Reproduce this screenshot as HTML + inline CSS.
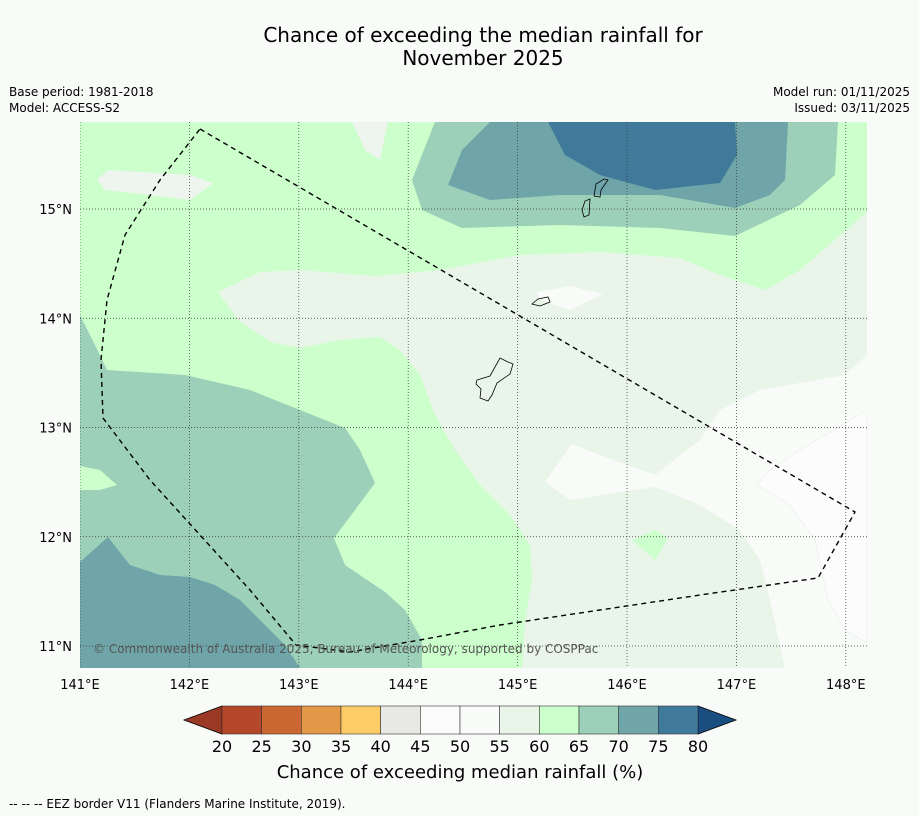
<!DOCTYPE html>
<html><head><meta charset="utf-8">
<style>
body{margin:0;background:#f9fbf9;}
svg{display:block;font-family:"DejaVu Sans","Liberation Sans",sans-serif;}
</style></head>
<body>
<svg id="chart" width="919" height="816" viewBox="0 0 919 816" xmlns="http://www.w3.org/2000/svg">
<rect width="919" height="816" fill="#f9fbf9"/>
<text x="483" y="42" font-size="20" text-anchor="middle">Chance of exceeding the median rainfall for</text>
<text x="483" y="65" font-size="20" text-anchor="middle">November 2025</text>
<text x="9" y="96" font-size="12">Base period: 1981-2018</text>
<text x="9" y="112" font-size="12">Model: ACCESS-S2</text>
<text x="910" y="96" font-size="12" text-anchor="end">Model run: 01/11/2025</text>
<text x="910" y="112" font-size="12" text-anchor="end">Issued: 03/11/2025</text>
<defs><clipPath id="mc"><rect x="80" y="122" width="787" height="546"/></clipPath></defs>
<g clip-path="url(#mc)">
<rect x="80" y="122" width="787" height="546" fill="#ccffcc"/>
<path fill="#9cd0b8" d="M435,122 L412,180 L422,210 L462,228 L560,225 L660,228 L735,236 L800,205 L835,175 L838,122Z"/>
<path fill="#6fa5a8" d="M490,122 L462,150 L448,185 L490,200 L560,195 L660,195 L735,208 L770,195 L785,180 L788,122Z"/>
<path fill="#3f7a9a" d="M548,122 L565,155 L600,175 L655,190 L720,183 L737,155 L735,122Z"/>
<path fill="#e9f5e9" d="M218,292 L260,272 L300,270 L375,276 L440,270 L520,255 L600,252 L680,258 L720,275 L765,290 L800,270 L867,212 L867,668 L522,668 L525,620 L532,580 L530,545 L510,515 L480,485 L455,450 L435,415 L420,375 L400,350 L380,337 L340,340 L300,348 L270,342 L238,320Z"/>
<path fill="#f9fbf9" d="M572,444 L545,482 L570,500 L655,487 L700,505 L740,530 L760,560 L770,600 L785,668 L867,668 L867,355 L845,375 L760,390 L720,410 L700,440 L655,475 L600,455Z"/>
<path fill="#fbfcfb" stroke="#eef2ee" stroke-width="1" d="M867,410 L800,450 L770,470 L757,485 L790,505 L815,540 L828,600 L845,630 L867,643Z"/>
<path fill="#f9fbf9" d="M537,292 L570,286 L603,294 L570,310 L540,300Z"/>
<path fill="#eef5ee" d="M97,180 L108,170 L190,175 L213,183 L190,200 L150,195 L105,190Z"/>
<path fill="#eef5ee" d="M352,122 L388,122 L380,160 L365,150Z"/>
<path fill="#ccffcc" d="M632,540 L655,530 L668,538 L655,560Z"/>
<path fill="#9cd0b8" d="M80,315 L95,345 L107,370 L185,375 L250,390 L300,410 L345,428 L360,450 L375,483 L355,510 L334,538 L345,565 L385,592 L405,610 L422,640 L422,668 L80,668Z"/>
<path fill="#ccffcc" d="M80,466 L100,470 L117,485 L100,490 L80,490Z"/>
<path fill="#6fa5a8" d="M80,562 L108,537 L130,565 L160,575 L190,577 L215,585 L240,600 L265,625 L285,645 L300,668 L80,668Z"/>
<g id="grid" stroke="#333" stroke-width="0.7" stroke-dasharray="1,2"></g>
<path fill="none" stroke="#000" stroke-width="0.8" d="M477,380 L490,376 L500,358 L508,362 L513,364 L510,374 L497,383 L492,395 L488,401 L480,398 L481,389 L476,384Z"/>
<path fill="none" stroke="#000" stroke-width="0.8" d="M532,304 L538,299 L548,297 L550,302 L540,306Z"/>
<path fill="none" stroke="#000" stroke-width="0.8" d="M582,210 L585,201 L590,199 L589,215 L584,217Z"/>
<path fill="none" stroke="#000" stroke-width="0.8" d="M594,196 L596,184 L604,179 L608,180 L601,190 L600,197Z"/>
<path fill="none" stroke="#000" stroke-width="1.4" stroke-dasharray="5,4" d="M200,129 L855,512 L818,578 L700,595 L600,610 L500,625 L420,640 L350,652 L296,645 L250,590 L200,535 L150,480 L103,418 L101,360 L107,300 L125,235 L160,180 Z"/>
<text x="93" y="653" font-size="12" fill="#555">© Commonwealth of Australia 2025, Bureau of Meteorology, supported by COSPPac</text>
</g>
<g id="axes"></g>
<g id="cbar"></g>
<text x="460" y="778" font-size="18" text-anchor="middle">Chance of exceeding median rainfall (%)</text>
<text x="9" y="808" font-size="12">--  --  -- EEZ border V11 (Flanders Marine Institute, 2019).</text>
</svg>
<script>
const lonTicks=[141,142,143,144,145,146,147,148];
const latTicks=[11,12,13,14,15];
const binEdges=[20,25,30,35,40,45,50,55,60,65,70,75,80];
const binColors=["#b5472a","#cc6633","#e39847","#fdcc66","#e8e8e4","#fbfbfb","#f9fbf9","#e9f5e9","#ccffcc","#9cd0b8","#6fa5a8","#3f7a9a"];
const lowColor="#9a3a25", highColor="#1a4d80";
const NS="http://www.w3.org/2000/svg";
const xLon=l=>80+(l-141)*109.4;
const yLat=l=>209+(15-l)*109.25;
const xC=v=>222+(v-20)*(476/60);
function mk(t,a,p){const e=document.createElementNS(NS,t);for(const k in a)e.setAttribute(k,a[k]);p.appendChild(e);return e;}
const grid=document.getElementById('grid'),axes=document.getElementById('axes'),cb=document.getElementById('cbar');
lonTicks.forEach(l=>{
 const x=xLon(l);
 const g=mk('line',{x1:x,x2:x,y1:122,y2:668},grid);
 
 
 const t=mk('text',{x:x,y:689,'font-size':13,'text-anchor':'middle'},axes);
 t.textContent=l+'°E';
 
 
});
latTicks.forEach(l=>{
 const y=yLat(l);
 const g=mk('line',{x1:80,x2:867,y1:y,y2:y},grid);
 
 
 const t=mk('text',{x:72,y:y+5,'font-size':13,'text-anchor':'end'},axes);
 t.textContent=l+'°N';
 
 
});
const y0=706,y1=734;
const lt=mk('path',{d:`M${xC(20)},${y0} L184,${(y0+y1)/2} L${xC(20)},${y1}Z`,fill:lowColor,stroke:'#000','stroke-width':0.8},cb);


const rt=mk('path',{d:`M${xC(80)},${y0} L736,${(y0+y1)/2} L${xC(80)},${y1}Z`,fill:highColor,stroke:'#000','stroke-width':0.8},cb);


binColors.forEach((c,i)=>{
 const r=mk('rect',{x:xC(binEdges[i]),y:y0,width:xC(binEdges[i+1])-xC(binEdges[i]),height:y1-y0,fill:c,stroke:'#333','stroke-width':0.6},cb);
 
 
});
binEdges.forEach(v=>{
 const t=mk('text',{x:xC(v),y:752,'font-size':16,'text-anchor':'middle'},cb);
 t.textContent=v;
 
 
});
</script>
</body></html>
